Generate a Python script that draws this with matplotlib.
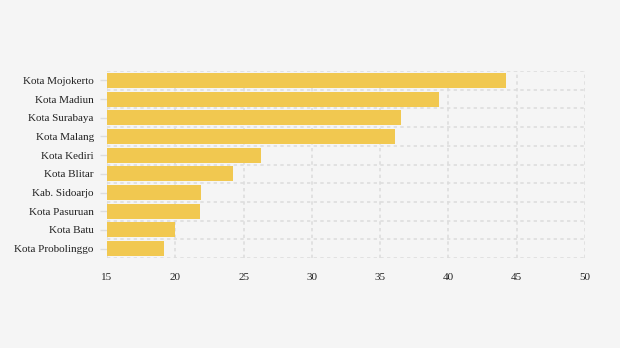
import matplotlib
matplotlib.use("Agg")
import matplotlib.pyplot as plt
from matplotlib.ticker import FixedLocator

categories = ["Kota Mojokerto", "Kota Madiun", "Kota Surabaya", "Kota Malang",
              "Kota Kediri", "Kota Blitar", "Kab. Sidoarjo", "Kota Pasuruan",
              "Kota Batu", "Kota Probolinggo"]
values = [44.2, 39.3, 36.5, 36.1, 26.3, 24.2, 21.9, 21.8, 20.0, 19.2]
xticks = [15, 20, 25, 30, 35, 40, 45, 50]

plt.rcParams['font.family'] = ['Liberation Serif', 'DejaVu Serif']

fig = plt.figure(figsize=(6.2, 3.48), dpi=100, facecolor='#f5f5f5')
ax = fig.add_axes([107/620, 1-258/348, (585-107)/620, (258-71)/348])
ax.set_facecolor('#f5f5f5')

n = len(categories)
ypos = list(range(n))
ax.barh(ypos, [v - 15 for v in values], left=15, height=0.8,
        color='#f1c850', zorder=3)

ax.set_xlim(15, 50)
ax.set_ylim(n - 0.5, -0.5)
ax.set_xticks(xticks)
ax.set_xticklabels([str(t) for t in xticks])
ax.set_yticks(ypos)
ax.set_yticklabels(categories)
ax.yaxis.set_minor_locator(FixedLocator([i - 0.5 for i in range(n + 1)]))

for s in ax.spines.values():
    s.set_visible(False)

ax.tick_params(axis='x', length=0, pad=10.5, labelsize=8, labelcolor='#222222')
ax.tick_params(axis='y', which='major', length=5, color='#dddddd', width=1,
               pad=4.5, labelsize=8, labelcolor='#222222')
ax.tick_params(axis='y', which='minor', length=0)

ax.grid(axis='x', which='major', color='#dddddd', linestyle=(0, (2, 2)), linewidth=1.2, zorder=0)
ax.grid(axis='y', which='minor', color='#dddddd', linestyle=(0, (2, 2)), linewidth=1.2, zorder=0)
ax.grid(axis='y', which='major', visible=False)
ax.set_axisbelow(True)

fig.savefig('out.png', dpi=100, facecolor=fig.get_facecolor())
